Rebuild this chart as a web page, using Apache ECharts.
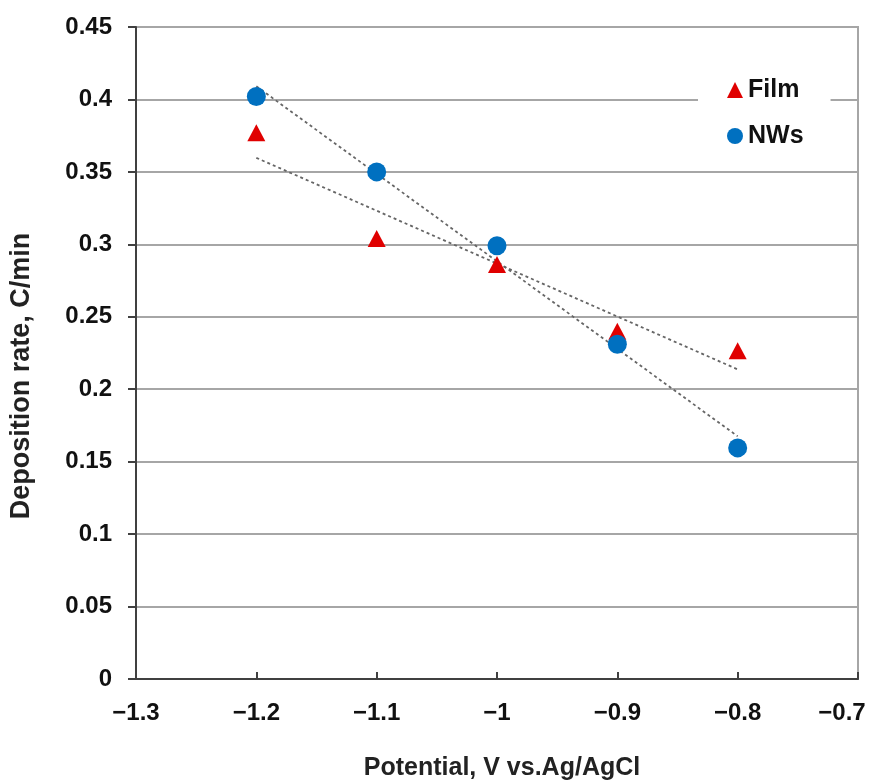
<!DOCTYPE html>
<html><head><meta charset="utf-8">
<script src="https://cdn.jsdelivr.net/npm/echarts@6/dist/echarts.min.js"></script>
<style>html,body{margin:0;padding:0;background:#fff;overflow:hidden}#c{width:870px;height:781px}</style>
</head><body><div id="c"></div>
<script>
var potentials = [-1.2, -1.1, -1.0, -0.9, -0.8];
var filmRates = [0.377, 0.304, 0.286, 0.240, 0.2265];
var nwRates = [0.402, 0.350, 0.299, 0.231, 0.1595];
var seriesNames = ['Film', 'NWs'];

function fit(xs, ys) {
  var n = xs.length, mx = 0, my = 0;
  for (var i = 0; i < n; i++) { mx += xs[i]; my += ys[i]; }
  mx /= n; my /= n;
  var sxy = 0, sxx = 0;
  for (var j = 0; j < n; j++) { sxy += (xs[j]-mx)*(ys[j]-my); sxx += (xs[j]-mx)*(xs[j]-mx); }
  var b = sxy / sxx, a = my - b*mx;
  var x0 = xs[0], x1 = xs[n-1];
  return [[x0, a + b*x0], [x1, a + b*x1]];
}
function pairs(xs, ys) { return xs.map(function(x,i){return [x, ys[i]];}); }

var font = 'Liberation Sans, Arial, sans-serif';
var xMin = -1.3, xMax = -0.7;
var chart = echarts.init(document.getElementById('c'), null, { width: 870, height: 781 });
chart.setOption({
  animation: false,
  grid: { left: 136, right: 12, top: 27, bottom: 102, containLabel: false, outerBoundsMode: 'none',
          show: true, borderColor: '#a6a6a6', borderWidth: 2 },
  legend: {
    data: [{name: seriesNames[0], icon: 'triangle'}, {name: seriesNames[1], icon: 'circle'}],
    orient: 'vertical', left: 698, top: 71, itemWidth: 16, itemHeight: 16, itemGap: 20,
    backgroundColor: '#fff', padding: [6, 27, 6, 29],
    textStyle: { fontFamily: font, fontWeight: 'bold', fontSize: 25, lineHeight: 26, color: '#111' }
  },
  xAxis: {
    type: 'value', min: xMin, max: xMax, interval: 0.1,
    name: 'Potential, V vs.Ag/AgCl', nameLocation: 'middle', nameGap: 77,
    nameTextStyle: { fontFamily: font, fontWeight: 'bold', fontSize: 25, color: '#222', padding: [0, 0, 0, 10] },
    axisLine: { onZero: false, lineStyle: { color: '#404040', width: 2 } },
    axisTick: { show: true, inside: true, length: 7, lineStyle: { color: '#404040', width: 2 } },
    splitLine: { show: false },
    axisLabel: { margin: 22, fontFamily: font, fontWeight: 'bold', fontSize: 24, color: '#111',
      rich: { last: { fontFamily: font, fontWeight: 'bold', fontSize: 24, color: '#111', padding: [0, 32, 0, 0] } },
      formatter: function(v){
        var s = String(Math.round(v*10)/10).replace('-', '\u2212');
        return Math.abs(v - xMax) < 1e-9 ? '{last|' + s + '}' : s;
      } }
  },
  yAxis: {
    type: 'value', min: 0, max: 0.45, interval: 0.05,
    name: 'Deposition rate, C/min', nameLocation: 'middle', nameGap: 101,
    nameTextStyle: { fontFamily: font, fontWeight: 'bold', fontSize: 27, color: '#222', padding: [0, 46, 0, 0] },
    axisLine: { show: true, lineStyle: { color: '#404040', width: 2 } },
    axisTick: { show: true, length: 8, lineStyle: { color: '#404040', width: 2 } },
    splitLine: { show: true, lineStyle: { color: '#a6a6a6', width: 2 } },
    axisLabel: { margin: 24, fontFamily: font, fontWeight: 'bold', fontSize: 24, color: '#111',
      formatter: function(v){ return String(parseFloat(v.toFixed(2))); } }
  },
  series: [
    { name: seriesNames[0] + ' trend', type: 'line', data: fit(potentials, filmRates), symbol: 'none',
      lineStyle: { color: '#666', width: 1.8, type: [3, 3] }, z: 1, silent: true },
    { name: seriesNames[1] + ' trend', type: 'line', data: fit(potentials, nwRates), symbol: 'none',
      lineStyle: { color: '#666', width: 1.8, type: [3, 3] }, z: 1, silent: true },
    { name: seriesNames[0], type: 'scatter', data: pairs(potentials, filmRates), symbol: 'triangle',
      symbolSize: [18, 17], itemStyle: { color: '#e00000', opacity: 1 }, z: 3 },
    { name: seriesNames[1], type: 'scatter', data: pairs(potentials, nwRates), symbol: 'circle',
      symbolSize: 19, itemStyle: { color: '#0070c0', opacity: 1 }, z: 4 }
  ]
});
</script></body></html>
